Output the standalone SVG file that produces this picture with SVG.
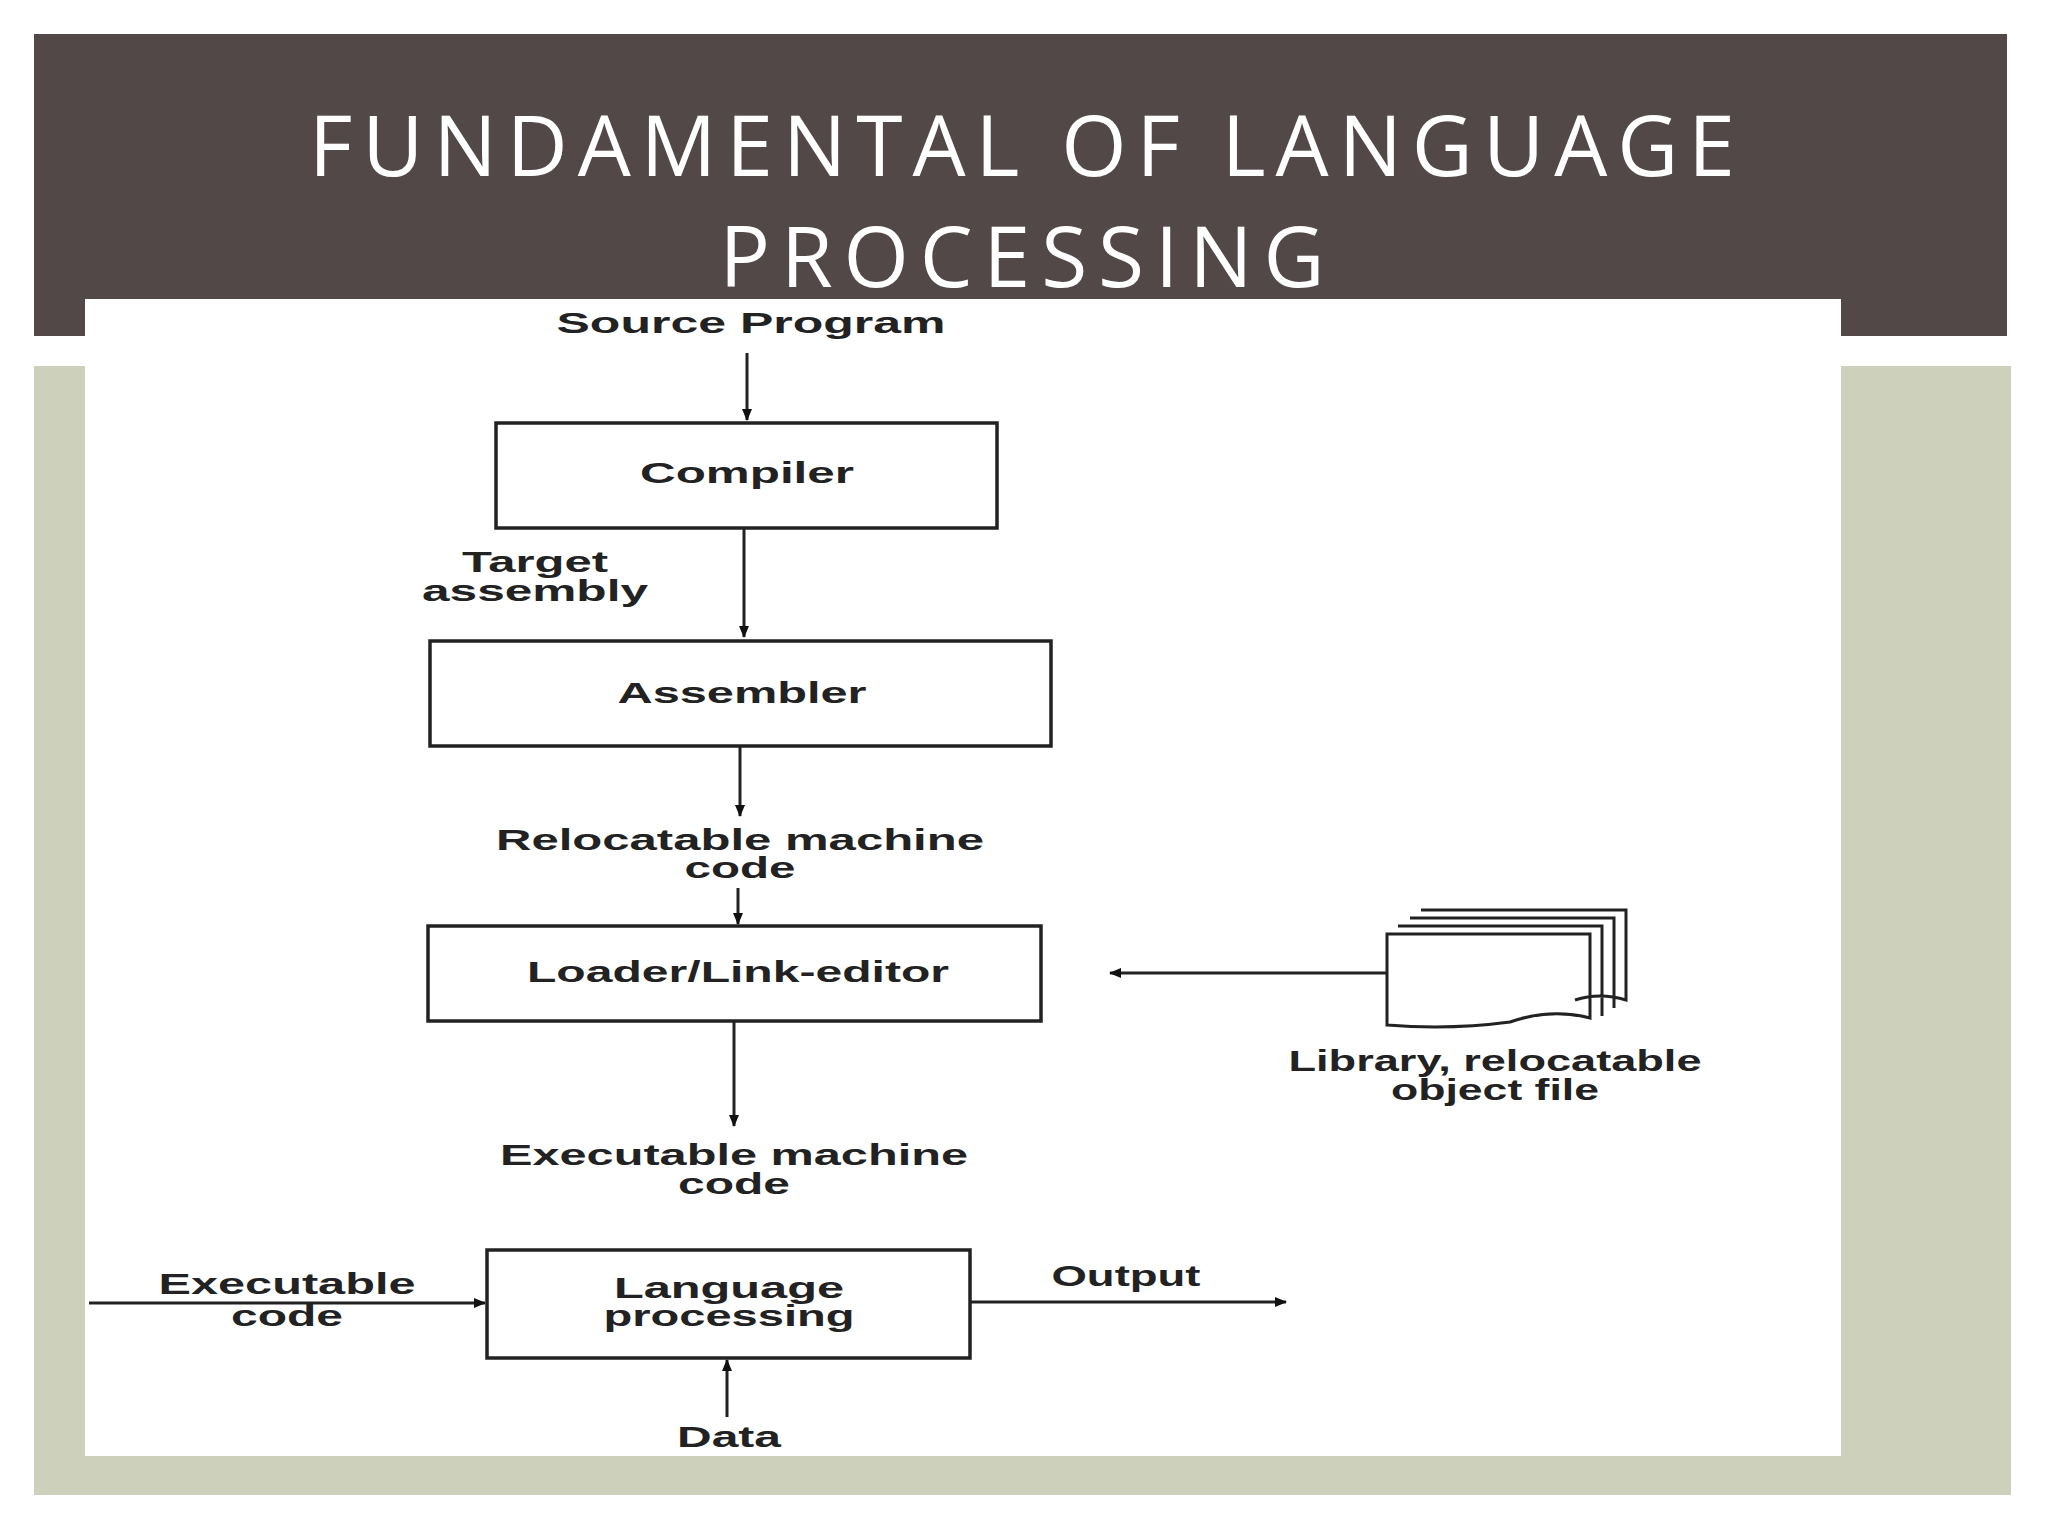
<svg xmlns="http://www.w3.org/2000/svg" width="2048" height="1536" viewBox="0 0 2048 1536">
<defs>
<marker id="ah" markerWidth="12" markerHeight="12" refX="11" refY="6" orient="auto" markerUnits="userSpaceOnUse"><path d="M0,1 L12,6 L0,11 z" fill="#111"/></marker>
<style>
.t{font-family:"Liberation Sans",Arial,sans-serif;font-weight:bold;font-size:29px;fill:#222;text-anchor:middle}
.b{fill:#fff;stroke:#222;stroke-width:3.5}
.c{stroke:#222;stroke-width:3;fill:none}
.ttl{font-family:"Open Sans","Noto Sans",sans-serif;font-size:84px;fill:#fff;text-anchor:middle}
</style>
</defs>
<rect width="2048" height="1536" fill="#fff"/>
<rect x="34" y="34" width="1973" height="302" fill="#524848"/>
<rect x="34" y="366" width="1977" height="1129" fill="#cdd1bc"/>
<rect x="85" y="299" width="1756" height="1157" fill="#fff"/>
<text class="ttl" x="1022" y="176" textLength="1426" lengthAdjust="spacing">FUNDAMENTAL OF LANGUAGE</text>
<text class="ttl" x="1022" y="287" textLength="605" lengthAdjust="spacing">PROCESSING</text>
<g id="connectors">
<line class="c" x1="747" y1="353" x2="747" y2="420" marker-end="url(#ah)"/>
<line class="c" x1="744" y1="528" x2="744" y2="637" marker-end="url(#ah)"/>
<line class="c" x1="740" y1="746" x2="740" y2="816" marker-end="url(#ah)"/>
<line class="c" x1="738" y1="888" x2="738" y2="924" marker-end="url(#ah)"/>
<line class="c" x1="1387" y1="973" x2="1110" y2="973" marker-end="url(#ah)"/>
<line class="c" x1="734" y1="1021" x2="734" y2="1126" marker-end="url(#ah)"/>
<line class="c" x1="89" y1="1303" x2="485" y2="1303" marker-end="url(#ah)"/>
<line class="c" x1="970" y1="1302" x2="1286" y2="1302" marker-end="url(#ah)"/>
<line class="c" x1="727" y1="1417" x2="727" y2="1360" marker-end="url(#ah)"/>
</g>
<text class="t" x="751" y="333" textLength="389" lengthAdjust="spacingAndGlyphs">Source Program</text>
<g id="compiler"><rect class="b" x="496" y="423" width="501" height="105"/><text class="t" x="747" y="483" textLength="214" lengthAdjust="spacingAndGlyphs">Compiler</text></g>
<text class="t" x="535" y="572" textLength="146" lengthAdjust="spacingAndGlyphs">Target</text><text class="t" x="535" y="601" textLength="226" lengthAdjust="spacingAndGlyphs">assembly</text>
<g id="assembler"><rect class="b" x="430" y="641" width="621" height="105"/><text class="t" x="742" y="703" textLength="249" lengthAdjust="spacingAndGlyphs">Assembler</text></g>
<text class="t" x="740" y="850" textLength="488" lengthAdjust="spacingAndGlyphs">Relocatable machine</text><text class="t" x="740" y="878" textLength="111" lengthAdjust="spacingAndGlyphs">code</text>
<g id="loader"><rect class="b" x="428" y="926" width="613" height="95"/><text class="t" x="738" y="982" textLength="422" lengthAdjust="spacingAndGlyphs">Loader/Link-editor</text></g>
<g id="library">
<path class="c" d="M1421,910 H1626 V1000 Q1600,992 1575,1000 M1410,918 H1614 V1008 M1398,926 H1602 V1016 M1387,934 H1590 V1018 Q1550,1008 1510,1022 Q1450,1030 1387,1025 Z" fill="#fff"/>
<text class="t" x="1495" y="1071" textLength="413" lengthAdjust="spacingAndGlyphs">Library, relocatable</text><text class="t" x="1495" y="1100" textLength="208" lengthAdjust="spacingAndGlyphs">object file</text>
</g>
<text class="t" x="734" y="1165" textLength="468" lengthAdjust="spacingAndGlyphs">Executable machine</text><text class="t" x="734" y="1194" textLength="112" lengthAdjust="spacingAndGlyphs">code</text>
<g id="langproc"><rect class="b" x="487" y="1250" width="483" height="108"/><text class="t" x="729" y="1298" textLength="230" lengthAdjust="spacingAndGlyphs">Language</text><text class="t" x="729" y="1326" textLength="251" lengthAdjust="spacingAndGlyphs">processing</text></g>
<text class="t" x="287" y="1294" textLength="257" lengthAdjust="spacingAndGlyphs">Executable</text><text class="t" x="287" y="1326" textLength="112" lengthAdjust="spacingAndGlyphs">code</text>
<text class="t" x="1126" y="1286" textLength="149" lengthAdjust="spacingAndGlyphs">Output</text>
<text class="t" x="729" y="1447" textLength="104" lengthAdjust="spacingAndGlyphs">Data</text>
</svg>
